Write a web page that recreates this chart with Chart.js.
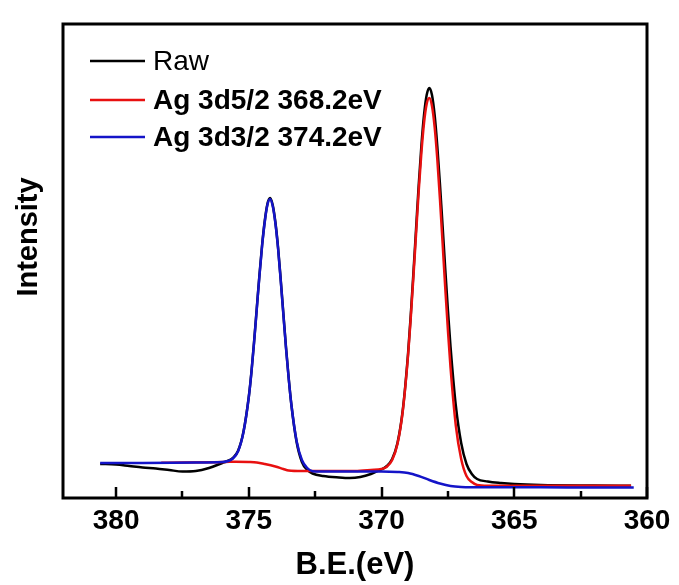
<!DOCTYPE html>
<html>
<head>
<meta charset="utf-8">
<script src="https://cdn.jsdelivr.net/npm/chart.js@4"></script>
<style>
  html, body { margin: 0; padding: 0; background: #fff; }
  #wrap { width: 679px; height: 585px; }
</style>
</head>
<body>
<div id="wrap"><canvas id="xpsChart" width="679" height="585"></canvas></div>
<script>
// --- data (B.E. in eV, intensity in arbitrary units) ---
const rawE = [380.6, 380.0, 379.5, 379.0, 378.5, 378.0, 377.5, 377.0, 376.5, 376.0, 375.8, 375.6, 375.4, 375.2,
  375.0, 374.9, 374.8, 374.7, 374.6, 374.5, 374.4, 374.3, 374.2, 374.1, 374.0, 373.9, 373.8, 373.7, 373.6, 373.5,
  373.4, 373.2, 373.0, 372.8, 372.6, 372.2, 371.6, 371.2, 370.8, 370.4, 370.1, 369.8, 369.6, 369.4, 369.2, 369.0,
  368.9, 368.8, 368.7, 368.6, 368.5, 368.4, 368.3, 368.2, 368.1, 368.0, 367.9, 367.8, 367.7, 367.6, 367.5, 367.4,
  367.2, 367.0, 366.8, 366.6, 366.4, 366.0, 365.5, 365.0, 364.0, 362.0, 360.6];
const rawI = [34, 33.5, 32, 30.5, 29.5, 28, 26.5, 27, 30, 35, 37, 40, 47.5, 66.5,
  101.5, 126.5, 157, 190, 223, 253, 277, 294, 300, 293, 276, 251, 219, 185, 151, 120.5,
  94, 56, 36, 28, 24.5, 22, 20.5, 20, 21, 24, 27.5, 32, 39, 55, 88, 145,
  183, 225, 269, 313, 352, 383, 403, 410, 403, 383, 352, 314, 272, 229, 188, 151,
  92, 55, 34, 24, 19, 16.5, 15, 14, 13, 12.5, 12.3];

const d52E = [378.3, 377.5, 376.5, 375.9, 375.5, 375.0, 374.7, 374.4, 374.0, 373.7, 373.5, 373.0, 372.0, 371.0,
  370.4, 370.0, 369.8, 369.6, 369.4, 369.2, 369.0, 368.9, 368.8, 368.7, 368.6, 368.5, 368.4, 368.3, 368.2, 368.1,
  368.0, 367.9, 367.8, 367.7, 367.6, 367.5, 367.4, 367.2, 367.0, 366.8, 366.6, 366.4, 366.0, 364.0, 360.6];
const d52I = [35.3, 35.5, 35.8, 36, 36.3, 36, 35.5, 34, 31.5, 29, 27.5, 27, 27, 27,
  28, 29, 31.3, 38, 54, 87, 143, 180, 221, 264, 307, 345, 375, 394, 400, 392,
  371, 339, 299, 255, 210, 168, 130, 72, 39, 22, 16, 13, 12.3, 12.3, 12.3];

const d32E = [380.6, 379.0, 377.0, 376.0, 375.6, 375.4, 375.2, 375.0, 374.9, 374.8, 374.7, 374.6, 374.5, 374.4,
  374.3, 374.2, 374.1, 374.0, 373.9, 373.8, 373.7, 373.6, 373.5, 373.4, 373.2, 373.0, 372.8, 372.6, 372.0, 371.0,
  370.0, 369.4, 369.0, 368.6, 368.2, 367.8, 367.4, 367.0, 366.6, 365.0, 363.0, 360.5];
const d32I = [35, 35, 35.5, 36, 39.5, 47, 66, 101, 126, 156, 189, 222, 252, 276,
  293, 299, 292, 275, 250, 218, 184, 150, 120, 94, 57, 38, 30, 26.8, 26.5, 26.5,
  26.5, 26, 25, 22, 18, 14.5, 12, 11, 10.8, 10.8, 10.5, 10.5];

const xTicks = [380, 375, 370, 365, 360];
const seriesLabels = ['Raw', 'Ag 3d5/2 368.2eV', 'Ag 3d3/2 374.2eV'];
const seriesColors = ['#000000', '#e81010', '#1414c8'];

const toPoints = (xs, ys) => xs.map((x, i) => ({ x: x, y: ys[i] }));

const plainFont = "'Liberation Sans', Arial, sans-serif";

// --- plugin: frame, inward ticks, y title and legend ---
const frameAndLegend = {
  id: 'frameAndLegend',
  afterDatasetsDraw(chart) {
    const ctx = chart.ctx;
    const a = chart.chartArea;
    const xs = chart.scales.x;
    ctx.save();
    // inward ticks
    ctx.strokeStyle = '#000';
    ctx.lineWidth = 2.5;
    for (let v = 380; v >= 360; v -= 2.5) {
      const px = Math.round(xs.getPixelForValue(v));
      const len = (v % 5 === 0) ? 11 : 7;
      ctx.beginPath();
      ctx.moveTo(px, a.bottom);
      ctx.lineTo(px, a.bottom - len);
      ctx.stroke();
    }
    // frame
    ctx.lineWidth = 3;
    ctx.strokeRect(a.left, a.top, a.right - a.left, a.bottom - a.top);

    // y title
    ctx.fillStyle = '#000';
    ctx.font = "bold 29px " + plainFont;
    ctx.textAlign = 'center';
    ctx.textBaseline = 'middle';
    ctx.translate(29, 237);
    ctx.rotate(-Math.PI / 2);
    ctx.fillText('Intensity', 0, 0);
    ctx.restore();

    // legend
    ctx.save();
    const rows = [61, 100, 137];
    chart.data.datasets.forEach((ds, i) => {
      ctx.strokeStyle = ds.borderColor;
      ctx.lineWidth = 2.5;
      ctx.beginPath();
      ctx.moveTo(90, rows[i]);
      ctx.lineTo(145, rows[i]);
      ctx.stroke();
      ctx.fillStyle = '#000';
      ctx.font = (i === 0 ? '' : 'bold ') + '28px ' + plainFont;
      ctx.textAlign = 'left';
      ctx.textBaseline = 'middle';
      ctx.fillText(ds.label, 153, rows[i] + 1);
    });
    ctx.restore();
  }
};

const ctx = document.getElementById('xpsChart').getContext('2d');
const xpsChart = new Chart(ctx, {
  type: 'line',
  data: {
    datasets: [
      { label: seriesLabels[0], data: toPoints(rawE, rawI), borderColor: seriesColors[0], order: 3 },
      { label: seriesLabels[1], data: toPoints(d52E, d52I), borderColor: seriesColors[1], order: 2 },
      { label: seriesLabels[2], data: toPoints(d32E, d32I), borderColor: seriesColors[2], order: 1 }
    ]
  },
  options: {
    responsive: false,
    animation: false,
    devicePixelRatio: 1,
    layout: { padding: { top: 24, right: 32, left: 0, bottom: 0 } },
    elements: {
      line: { borderWidth: 2.5, cubicInterpolationMode: 'monotone', fill: false },
      point: { radius: 0 }
    },
    plugins: { legend: { display: false }, tooltip: { enabled: false } },
    scales: {
      x: {
        type: 'linear',
        reverse: true,
        min: 360,
        max: 382,
        afterBuildTicks: (scale) => { scale.ticks = xTicks.map(v => ({ value: v })); },
        afterFit: (scale) => { scale.height = 87; },
        grid: { display: false, drawTicks: false },
        border: { display: false },
        ticks: {
          color: '#000',
          padding: 6,
          maxRotation: 0,
          font: { family: plainFont, size: 28, weight: 'bold' }
        },
        title: {
          display: true,
          text: 'B.E.(eV)',
          color: '#000',
          padding: { top: 0, bottom: 1 },
          font: { family: plainFont, size: 31, weight: 'bold' }
        }
      },
      y: {
        min: 0,
        max: 474,
        afterFit: (scale) => { scale.width = 63; },
        grid: { display: false, drawTicks: false },
        border: { display: false },
        ticks: { display: false }
      }
    }
  },
  plugins: [frameAndLegend]
});
</script>
</body>
</html>
